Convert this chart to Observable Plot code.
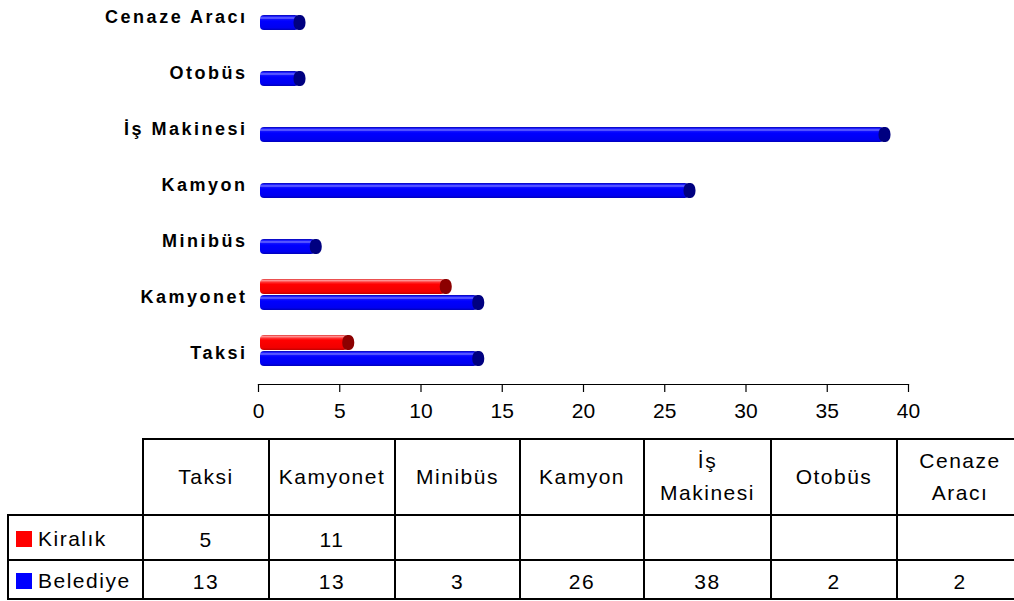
<!DOCTYPE html>
<html><head><meta charset="utf-8">
<script src="https://cdn.jsdelivr.net/npm/d3@7"></script>
<script src="https://cdn.jsdelivr.net/npm/@observablehq/plot@0.6"></script>
<style>
html,body{margin:0;padding:0;background:#fff;overflow:hidden;width:1014px;height:601px;}
#chart{position:absolute;left:0;top:0;}
#tbl{position:absolute;left:7px;top:438px;border-collapse:collapse;font-family:"Liberation Sans",Arial,sans-serif;font-size:21px;letter-spacing:1.5px;color:#000;table-layout:fixed;width:1015px;}
#tbl td{border:2px solid #000;text-align:center;vertical-align:middle;padding:0;overflow:hidden;white-space:nowrap;}
#tbl td.val{padding-top:4px;}
#tbl td.leg{text-align:left;padding-left:7px;padding-top:3px;}
#tbl .sw{display:inline-block;width:16px;height:16px;margin-right:6px;vertical-align:-1px;}
</style></head><body>
<div id="chart"></div>
<table id="tbl"></table>
<script>
// ---- data ----
const categories = ["Taksi", "Kamyonet", "Minibüs", "Kamyon", "İş Makinesi", "Otobüs", "Cenaze Aracı"];
const kiralik  = [5, 11, null, null, null, null, null];
const belediye = [13, 13, 3, 26, 38, 2, 2];
const seriesNames = ["Kiralık", "Belediye"];
const seriesValues = [kiralik, belediye];
const seriesColors = ["#FF0000", "#0000FF"];
const capColors = ["#8C0000", "#000080"];
const xTicks = [0, 5, 10, 15, 20, 25, 30, 35, 40];

// ---- rows for Plot ----
const rows = [];
seriesNames.forEach((s, si) => {
  categories.forEach((c, ci) => {
    const v = seriesValues[si][ci];
    if (v != null) rows.push({category: c, series: s, value: v});
  });
});

const seriesDy = {"Kiralık": -10, "Belediye": 6};
const gradIds = {"Kiralık": "gRed", "Belediye": "gBlue"};

const marks = [];
seriesNames.forEach((s, si) => {
  const data = rows.filter(d => d.series === s);
  marks.push(Plot.barX(data, {
    x1: 0, x2: "value", y: "category",
    fill: `url(#${gradIds[s]})`,
    dy: seriesDy[s], dx: 2, insetRight: -6, rx: 4
  }));
  marks.push(Plot.barX(data, {
    x1: "value", x2: "value", y: "category",
    fill: capColors[si],
    dy: seriesDy[s], dx: 9, insetLeft: -6, insetRight: -6, rx: 5, ry: 7
  }));
});

const svg = Plot.plot({
  width: 1014,
  height: 438,
  marginLeft: 258,
  marginRight: 106,
  marginTop: 0,
  marginBottom: 54,
  style: {fontFamily: '"Liberation Sans", Arial, sans-serif', color: "#000", background: "#fff", overflow: "visible"},
  x: {domain: [0, 40], ticks: xTicks},
  y: {domain: categories.slice().reverse(), range: [7, 362.5], paddingInner: 0.7357, paddingOuter: 0},
  marks: [
    ...marks,
    Plot.frame({anchor: "bottom", stroke: "#000", strokeWidth: 1.2}),
    Plot.axisX({ticks: xTicks, tickSize: 8, tickPadding: 11, fontSize: 21, label: null, strokeWidth: 1.2}),
    Plot.axisY({tickSize: 0, tickPadding: 11, fontSize: 18, fontWeight: "bold", label: null})
  ]
});

// gradients for 3D look
const defs = d3.select(svg).insert("defs", ":first-child");
function grad(id, stops) {
  const g = defs.append("linearGradient").attr("id", id).attr("x1", 0).attr("y1", 0).attr("x2", 0).attr("y2", 1);
  stops.forEach(([o, c]) => g.append("stop").attr("offset", o).attr("stop-color", c));
}
grad("gRed", [["0", "#e03030"], ["0.1", "#ff9090"], ["0.22", "#ff3030"], ["0.35", "#ff0000"], ["0.85", "#f00000"], ["1", "#c00000"]]);
grad("gBlue", [["0", "#0000b0"], ["0.1", "#2020ff"], ["0.2", "#7070ff"], ["0.3", "#1010ff"], ["0.4", "#0000ff"], ["0.85", "#0000f0"], ["1", "#0000b8"]]);

d3.select(svg).selectAll('g[aria-label="y-axis tick label"] text, g[aria-label="y-axis tick label"]').attr("letter-spacing", "2.5px");

document.getElementById("chart").appendChild(svg);

// ---- data table ----
const tbl = d3.select("#tbl");
const colW = [135, 126, 126, 125, 124, 127, 126, 126];
const cg = tbl.append("colgroup");
colW.forEach(w => cg.append("col").style("width", w + "px"));
const hdr = tbl.append("tr").style("height", "76px");
hdr.append("td").style("border-top", "none").style("border-left", "none");
categories.forEach(c => {
  const td = hdr.append("td").style("line-height", "32px");
  c.split(" ").forEach((p, i) => {
    if (i) td.append("br");
    td.append(() => document.createTextNode(p));
  });
});
seriesNames.forEach((s, si) => {
  const tr = tbl.append("tr").style("height", si ? "39px" : "45px");
  const lg = tr.append("td").attr("class", "leg");
  lg.append("span").attr("class", "sw").style("background", seriesColors[si]);
  lg.append(() => document.createTextNode(s));
  seriesValues[si].forEach(v => tr.append("td").attr("class", "val").text(v == null ? "" : v));
});
</script>
</body></html>
